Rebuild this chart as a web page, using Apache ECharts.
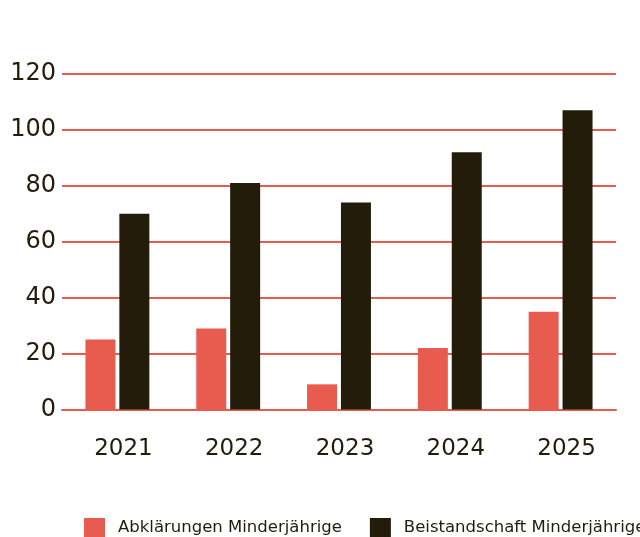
<!DOCTYPE html>
<html lang="de">
<head>
<meta charset="UTF-8">
<title>Abklärungen und Beistandschaften</title>
<script src="https://cdn.jsdelivr.net/npm/echarts@6/dist/echarts.min.js"></script>
<style>
  html, body { margin: 0; padding: 0; background: #fff; }
  #main { width: 640px; height: 537px; }
</style>
</head>
<body>
<div id="main"></div>
<script>
// Daten
var years = ['2021', '2022', '2023', '2024', '2025'];
var abklaerungen = [25, 29, 9, 22, 35];
var beistandschaft = [70, 81, 74, 92, 107];
var seriesNames = ['Abklärungen Minderjährige', 'Beistandschaft Minderjährige'];

var red = '#E85C50';
var dark = '#231C0B';
var font = 'DejaVu Sans';

var chart = echarts.init(document.getElementById('main'));
chart.setOption({
  animation: false,
  textStyle: { fontFamily: font },
  grid: { left: 62, right: 24, top: 74, bottom: 127.5 },
  legend: {
    left: 84,
    top: 518,
    width: 1000,
    padding: 0,
    itemWidth: 21,
    itemHeight: 20,
    itemGap: 28,
    icon: 'rect',
    textStyle: { fontFamily: font, fontSize: 16.5, lineHeight: 20, color: dark, padding: [0, 0, 0, 8] },
    data: seriesNames
  },
  xAxis: {
    type: 'category',
    data: years,
    axisLine: { lineStyle: { color: red, width: 2 } },
    axisTick: { show: false },
    axisLabel: { color: dark, fontSize: 23, margin: 28, padding: [0, 0, 0, 12], fontFamily: font }
  },
  yAxis: {
    type: 'value',
    min: 0,
    max: 120,
    interval: 20,
    axisLine: { show: false },
    axisTick: { show: false },
    axisLabel: { color: dark, fontSize: 24, margin: 6, fontFamily: font },
    splitLine: { lineStyle: { color: red, width: 2 } }
  },
  series: [
    {
      name: seriesNames[0],
      type: 'bar',
      data: abklaerungen,
      barWidth: 30,
      barGap: '13%',
      itemStyle: { color: red }
    },
    {
      name: seriesNames[1],
      type: 'bar',
      data: beistandschaft,
      barWidth: 30,
      barGap: '13%',
      itemStyle: { color: dark }
    }
  ]
});
</script>
</body>
</html>
